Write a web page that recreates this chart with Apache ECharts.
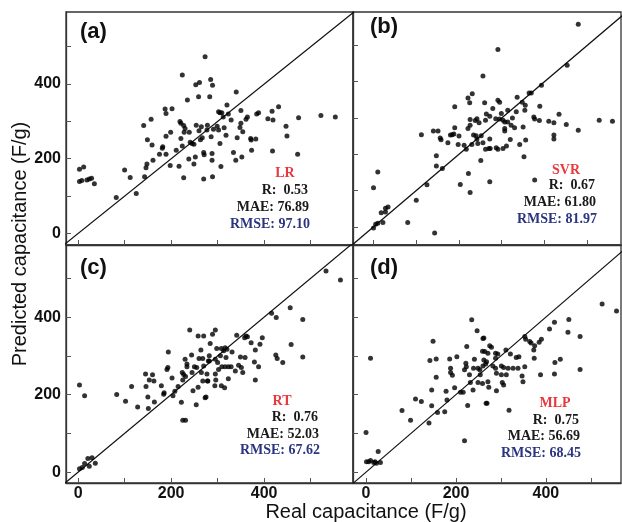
<!DOCTYPE html>
<html>
<head>
<meta charset="utf-8">
<script src="https://cdn.jsdelivr.net/npm/echarts@6/dist/echarts.min.js"></script>
<style>html,body{margin:0;padding:0;background:#fff;}#c{width:622px;height:522px;}</style>
</head>
<body>
<div id="c"></div>
<script>
// ---- data: [real, predicted] ----
const lrPoints = [[3,172],[12,178],[3,139],[8,142],[19,143],[24,146],[29,148],[35,133],
[82,96],[100,170],[112,150],[125,107],[141,289],[157,306],[149,251],[159,237],[143,152],[146,176],[148,186],[161,196],[175,212],[181,228],[182,232],[189,212],[189,260],[187,333],[189,321],[202,334],[199,271],[198,182],[211,223],[217,180],[219,300],[221,295],[221,254],[224,234],[227,149],[227,289],[230,281],[228,271],[224,424],[235,357],[238,199],[239,271],[241,244],[245,241],[249,239],[249,186],[252,205],[254,290],[253,398],[261,404],[259,366],[260,275],[263,251],[265,286],[267,256],[270,217],[270,146],[271,211],[273,473],[278,290],[285,412],[289,397],[283,366],[340,379],[302,326],[305,323],[309,323],[312,312],[320,344],[323,320],[329,304],[350,329],[350,295],[348,284],[361,306],[364,312],[384,320],[388,323],[408,307],[419,304],[417,327],[431,339],[447,287],[449,261],[474,310],[522,316],[553,312],[277,277],[291,279],[299,287],[302,277],[314,283],[318,263],[305,241],[342,256],[354,272],[371,254],[372,250],[382,253],[373,223],[334,217],[352,205],[339,196],[288,214],[288,196],[307,179],[289,152],[418,221],[472,212],[286,259]];
const svrPoints = [[0,-3],[5,7],[10,10],[22,12],[0,108],[10,151],[18,39],[28,41],[28,51],[34,55],[80,12],[100,73],[125,116],[143,-17],[112,254],[140,264],[151,264],[147,196],[147,168],[161,161],[156,245],[158,240],[174,232],[180,253],[184,254],[188,256],[190,273],[200,250],[190,331],[198,227],[203,117],[212,225],[217,214],[222,147],[221,271],[226,280],[226,296],[221,355],[225,342],[231,367],[226,95],[230,227],[234,253],[238,293],[242,298],[247,287],[240,251],[244,230],[242,242],[252,251],[251,183],[256,232],[260,342],[256,416],[262,294],[264,311],[262,214],
[479,558],[291,489],[453,445],[393,390],[364,369],[369,369],[336,357],[348,343],[355,335],[389,332],[354,321],[291,349],[295,343],[279,326],[314,321],[334,317],[272,305],[286,298],[295,297],[303,294],[307,289],[314,289],[325,300],[299,312],[322,280],[330,273],[307,271],[307,264],[350,275],[375,303],[377,297],[388,293],[410,291],[422,287],[434,310],[451,282],[479,266],[528,294],[559,291],[422,253],[422,242],[272,242],[320,241],[342,227],[356,239],[270,216],[273,216],[287,218],[291,214],[303,216],[311,223],[352,193],[272,124],[377,129]];
const rtPoints = [[3,9],[9,12],[14,22],[21,35],[24,15],[30,37],[37,23],[3,225],[14,197],[83,200],[102,183],[115,221],[128,168],[145,253],[146,221],[150,194],[151,164],[153,238],[160,251],[163,235],[164,181],[179,223],[184,201],[185,205],[191,265],[193,270],[194,310],[202,243],[204,197],[208,209],[215,221],[222,180],[224,257],[225,134],[231,134],[227,252],[231,247],[225,238],[230,291],[234,279],[234,272],[240,367],[244,302],[245,257],[247,210],[254,174],[250,272],[255,270],[258,351],[258,219],[260,293],[264,315],[268,293],[270,351],[270,274],[265,257],[268,235],[275,194],[278,235],[284,332],[282,300],[282,287],
[533,519],[564,496],[416,410],[426,399],[456,424],[483,394],[458,329],[483,297],[425,302],[428,293],[440,283],[396,347],[391,330],[381,315],[372,334],[358,347],[361,351],[364,349],[341,353],[359,296],[349,297],[345,276],[351,270],[354,257],[379,284],[388,272],[381,238],[295,367],[289,356],[298,319],[308,319],[316,321],[320,317],[331,310],[313,313],[306,300],[318,296],[280,287],[295,291],[300,283],[309,272],[316,272],[323,272],[329,272],[338,261],[302,265],[295,253],[277,253],[279,235],[296,238],[308,223],[315,218],[323,241],[294,223],[273,192]];
const mlpPoints = [[0,102],[1,27],[6,27],[10,30],[17,25],[20,27],[27,53],[23,23],[32,25],[10,294],[80,159],[99,134],[110,189],[123,182],[140,127],[146,171],[146,212],[142,288],[149,338],[156,292],[156,245],[159,154],[175,156],[180,186],[178,209],[186,292],[188,268],[188,257],[192,250],[197,218],[202,298],[210,206],[216,206],[219,264],[222,281],[223,272],[226,172],[219,81],[224,324],[230,251],[232,231],[235,393],[238,212],[239,268],[241,291],[247,365],[249,268],[253,264],[254,251],[259,312],[262,346],[262,289],[266,279],[267,178],[259,229],[249,231],
[525,434],[557,416],[419,387],[451,394],[408,369],[449,361],[476,350],[353,350],[355,343],[364,337],[367,333],[390,343],[385,335],[375,326],[373,315],[374,294],[432,291],[420,283],[476,265],[419,253],[388,251],[260,345],[275,326],[279,322],[264,311],[271,307],[288,307],[293,305],[311,315],[321,305],[334,296],[340,298],[288,294],[268,285],[260,274],[282,274],[288,268],[301,274],[306,270],[316,268],[327,268],[338,268],[353,272],[290,255],[301,251],[312,251],[303,231],[306,225],[347,248],[349,233],[271,233],[273,219],[290,210],[269,178],[318,160]];

const panelLabels = ['(a)','(b)','(c)','(d)'];
const modelNames = ['LR','SVR','RT','MLP'];
const rValues = ['0.53','0.67','0.76','0.75'];
const maeValues = ['76.89','61.80','52.03','56.69'];
const rmseValues = ['97.10','81.97','67.62','68.45'];
const tickValues = [0,100,200,300,400,500];
const labelValues = [0,200,400];

// ---- layout ----
const grids = [
  {left:66, top:12, width:287, height:233},
  {left:353, top:12, width:268, height:233},
  {left:66, top:245, width:287, height:238},
  {left:353, top:245, width:268, height:238}
];
const xRanges = [[-26,591],[-48,579],[-26,591],[-29,567]];
const yRanges = [[-31,593],[-50,592],[-28,586],[-28,586]];
const allPoints = [lrPoints, svrPoints, rtPoints, mlpPoints];

const labelFont = {fontFamily:'Liberation Sans, Arial, sans-serif', fontWeight:'bold', fontSize:16, color:'#111'};
const axisLineStyle = {show:true, onZero:false, lineStyle:{color:'#333', width:1.3}};

const xAxes = grids.map((g,i)=>({
  type:'value', gridIndex:i, min:xRanges[i][0], max:xRanges[i][1],
  axisLine:axisLineStyle, splitLine:{show:false},
  axisTick:{show:true, inside:true, length:5, customValues:tickValues, lineStyle:{color:'#555', width:1}},
  axisLabel:Object.assign({show:i>=2, customValues:labelValues, margin:3}, labelFont)
}));
const yAxes = grids.map((g,i)=>({
  type:'value', gridIndex:i, min:yRanges[i][0], max:yRanges[i][1],
  axisLine:axisLineStyle, splitLine:{show:false},
  axisTick:{show:true, inside:true, length:5, customValues:tickValues, lineStyle:{color:'#555', width:1}},
  axisLabel:Object.assign({show:i%2===0, customValues:labelValues, margin:5}, labelFont)
}));

const series = [];
allPoints.forEach((pts,i)=>{
  const lo = Math.min(xRanges[i][0], yRanges[i][0]);
  const hi = Math.max(xRanges[i][1], yRanges[i][1]);
  series.push({type:'line', xAxisIndex:i, yAxisIndex:i, data:[[lo,lo],[hi,hi]], symbol:'none', clip:true,
    lineStyle:{color:'#111', width:1.2}, silent:true, z:1});
  series.push({type:'scatter', xAxisIndex:i, yAxisIndex:i, data:pts, symbol:'circle', symbolSize:5,
    itemStyle:{color:'#000'}, z:2});
});

const statPos = [
  {name:[285,173], r:[308,190], mae:[309,207], rmse:[310,224], lab:[80,32]},
  {name:[566,170], r:[595,185], mae:[596,202], rmse:[597,219], lab:[370,27]},
  {name:[282,401], r:[318,417], mae:[319,434], rmse:[320,450], lab:[80,268]},
  {name:[555,403], r:[579,420], mae:[580,436], rmse:[581,453], lab:[370,268]}
];
const serif = 'bold 14px "Liberation Serif", "Times New Roman", serif';
const graphic = [];
statPos.forEach((p,i)=>{
  graphic.push({type:'text', style:{text:panelLabels[i], x:p.lab[0], y:p.lab[1], font:'bold 22px "Liberation Sans", Arial, sans-serif', fill:'#111', textAlign:'left', textVerticalAlign:'middle'}});
  graphic.push({type:'text', style:{text:modelNames[i], x:p.name[0], y:p.name[1], font:serif, fill:'#e8383d', textAlign:'center', textVerticalAlign:'middle'}});
  graphic.push({type:'text', style:{text:'R:  '+rValues[i], x:p.r[0], y:p.r[1], font:serif, fill:'#1a1a1a', textAlign:'right', textVerticalAlign:'middle'}});
  graphic.push({type:'text', style:{text:'MAE: '+maeValues[i], x:p.mae[0], y:p.mae[1], font:serif, fill:'#1a1a1a', textAlign:'right', textVerticalAlign:'middle'}});
  graphic.push({type:'text', style:{text:'RMSE: '+rmseValues[i], x:p.rmse[0], y:p.rmse[1], font:serif, fill:'#2b3580', textAlign:'right', textVerticalAlign:'middle'}});
});
graphic.push({type:'text', x:20, y:244, rotation:Math.PI/2, style:{text:'Predicted capacitance (F/g)', x:0, y:0, font:'20px "Liberation Sans", Arial, sans-serif', fill:'#111', textAlign:'center', textVerticalAlign:'middle'}});
graphic.push({type:'text', style:{text:'Real capacitance (F/g)', x:366, y:512, font:'20px "Liberation Sans", Arial, sans-serif', fill:'#111', textAlign:'center', textVerticalAlign:'middle'}});

const chart = echarts.init(document.getElementById('c'), null, {renderer:'canvas'});
chart.setOption({
  animation:false,
  backgroundColor:'#fff',
  grid: grids.map(g=>Object.assign({show:true, borderColor:'#333', borderWidth:1.3, backgroundColor:'transparent'}, g)),
  xAxis: xAxes,
  yAxis: yAxes,
  series: series,
  graphic: graphic
});
</script>
</body>
</html>
